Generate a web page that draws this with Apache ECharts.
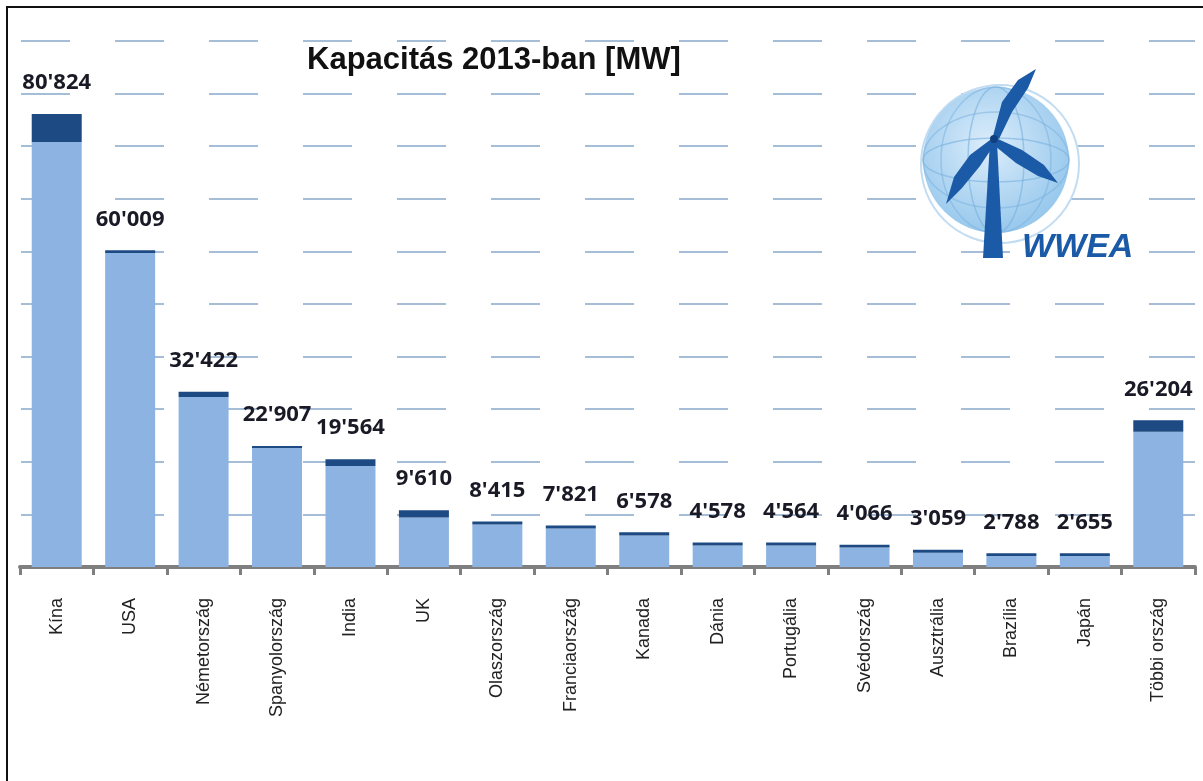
<!DOCTYPE html>
<html>
<head>
<meta charset="utf-8">
<script src="https://cdn.jsdelivr.net/npm/echarts@6/dist/echarts.min.js"></script>
<style>
html,body{margin:0;padding:0;background:#fff;}
#chart{width:1203px;height:781px;}
</style>
</head>
<body>
<div id="chart"></div>
<script>
// Categories (countries)
var categories = ['Kína','USA','Németország','Spanyolország','India','UK','Olaszország','Franciaország','Kanada','Dánia','Portugália','Svédország','Ausztrália','Brazília','Japán','Többi ország'];
// Light-blue part of each bar (MW)
var baseValues = [80800, 59700, 32300, 22600, 19200, 9400, 8100, 7300, 6000, 4100, 4100, 3700, 2700, 2100, 2100, 25700];
// Dark-blue top part of each bar (MW)
var addedValues = [5300, 500, 1000, 400, 1300, 1400, 550, 600, 600, 550, 550, 550, 600, 500, 500, 2200];
// Printed value labels (MW)
var labelValues = [80824, 60009, 32422, 22907, 19564, 9610, 8415, 7821, 6578, 4578, 4564, 4066, 3059, 2788, 2655, 26204];
var titleText = 'Kapacitás 2013-ban [MW]';

function fmt(v){ return String(v).replace(/\B(?=(\d{3})+(?!\d))/g, "'"); }

var chart = echarts.init(document.getElementById('chart'), null, {renderer:'canvas'});
var logoEls = [
  {type:'rect', shape:{x:1014, y:234, width:126, height:30}, style:{fill:'#ffffff'}},
  {type:'circle', shape:{cx:1000, cy:164, r:79}, style:{fill:'#ffffff', stroke:'#c2dcf2', lineWidth:2}},
  {type:'circle', shape:{cx:996, cy:160, r:73}, style:{
    fill:{type:'radial', x:0.45, y:0.4, r:0.7, colorStops:[{offset:0,color:'#dcedfb'},{offset:1,color:'#8cc2ea'}]}}},
  {type:'ellipse', shape:{cx:996, cy:160, rx:73, ry:22}, style:{fill:null, stroke:'#78b0de', lineWidth:1.5, opacity:0.6}},
  {type:'ellipse', shape:{cx:996, cy:160, rx:73, ry:48}, style:{fill:null, stroke:'#78b0de', lineWidth:1.5, opacity:0.5}},
  {type:'ellipse', shape:{cx:996, cy:160, rx:28, ry:73}, style:{fill:null, stroke:'#78b0de', lineWidth:1.5, opacity:0.6}},
  {type:'ellipse', shape:{cx:996, cy:160, rx:55, ry:73}, style:{fill:null, stroke:'#78b0de', lineWidth:1.5, opacity:0.5}},
  {type:'polygon', shape:{points:[[990,142],[997,142],[1003,258],[983,258]]}, style:{fill:'#1b5aa6'}},
  {type:'polygon', shape:{points:[[993,136],[1002,102],[1018,80],[1036,69],[1028,88],[1012,112],[999,139]]}, style:{fill:'#1b5aa6'}},
  {type:'polygon', shape:{points:[[990,140],[970,155],[954,177],[946,204],[962,188],[980,166],[994,145]]}, style:{fill:'#1b5aa6'}},
  {type:'polygon', shape:{points:[[998,139],[1022,150],[1044,165],[1058,183],[1038,176],[1016,163],[995,146]]}, style:{fill:'#1b5aa6'}},
  {type:'circle', shape:{cx:994, cy:139, r:4}, style:{fill:'#0f3f80'}},
  {type:'text', x:1022, y:231, style:{text:'WWEA', fontFamily:'Liberation Sans, Arial, sans-serif', fontWeight:'bold', fontStyle:'italic', fontSize:34, fill:'#1b5aa6'}}
];
logoEls.forEach(function(e, i){ e.z = 100 + i; });

var option = {
  backgroundColor:'#ffffff',
  animation:false,
  title:{
    text:titleText,
    left:302, top:40,
    textStyle:{fontFamily:'Liberation Sans, Arial, sans-serif', fontWeight:'bold', fontSize:31, color:'#111111'}
  },
  grid:{left:20, right:8, top:41, bottom:214, containLabel:false},
  xAxis:{
    type:'category',
    data:categories,
    boundaryGap:true,
    axisLine:{show:true, lineStyle:{color:'#7f7f7f', width:4}},
    axisTick:{show:true, length:8, lineStyle:{color:'#7f7f7f', width:3}},
    axisLabel:{rotate:90, margin:31, fontFamily:'Liberation Sans, Arial, sans-serif', fontSize:18, color:'#222222', interval:0}
  },
  yAxis:{
    type:'value',
    min:0, max:100000, interval:10000,
    axisLine:{show:false}, axisTick:{show:false}, axisLabel:{show:false},
    splitLine:{show:true, lineStyle:{color:'#a6bdd8', width:2, type:[49,45], dashOffset:-1}}
  },
  series:[
    {
      type:'bar', stack:'cap', name:'base',
      data:baseValues, barWidth:50,
      itemStyle:{color:'#8db3e2'}
    },
    {
      type:'bar', stack:'cap', name:'added',
      data:addedValues, barWidth:50,
      itemStyle:{color:'#1d4a82'},
      label:{
        show:true, position:'top', distance:20,
        formatter:function(p){ return fmt(labelValues[p.dataIndex]); },
        fontFamily:'Open Sans, sans-serif', fontWeight:'bold', fontSize:22, color:'#1a1a26'
      }
    }
  ],
  graphic:[
    {type:'polyline', shape:{points:[[7,781],[7,7],[1203,7]]}, style:{stroke:'#111', lineWidth:2, fill:null}, z:200}
  ].concat(logoEls)
};
chart.setOption(option);
</script>
</body>
</html>
